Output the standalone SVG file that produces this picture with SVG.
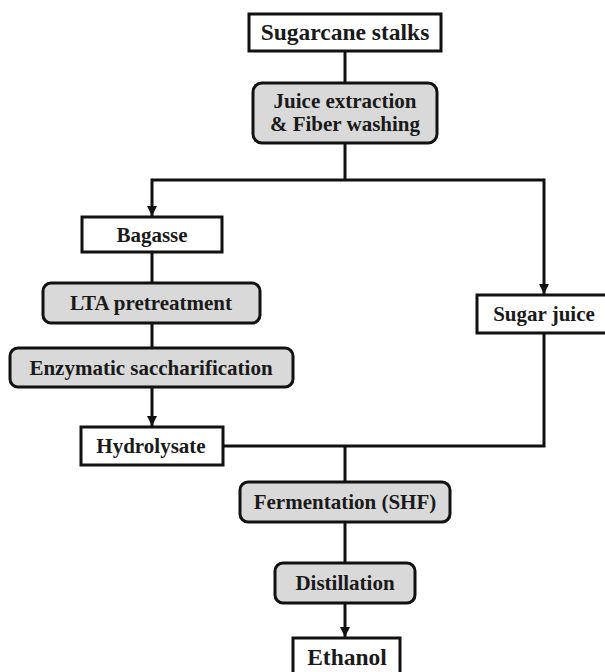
<svg xmlns="http://www.w3.org/2000/svg" width="605" height="672" viewBox="0 0 605 672">
<style>
.box{fill:#ffffff;stroke:#111111;stroke-width:3}
.proc{fill:#d9d9d9;stroke:#111111;stroke-width:3}
.t{font-family:"Liberation Serif","Times New Roman",serif;font-weight:bold;font-size:21px;fill:#1a1a1a;text-anchor:middle}
.big{font-size:23.5px}
.c{fill:none;stroke:#111111;stroke-width:3}
</style>
<defs>
<marker id="arr" viewBox="0 0 10 10" refX="10" refY="5" markerWidth="10" markerHeight="11" markerUnits="userSpaceOnUse" orient="auto">
<path d="M0,0 L10,5 L0,10 Z" fill="#111111"/>
</marker>
</defs>
<rect width="605" height="672" fill="#ffffff"/>
<g id="connectors">
<line class="c" x1="345" y1="51" x2="345" y2="83"/>
<line class="c" x1="345" y1="143" x2="345" y2="180"/>
<polyline class="c" points="345,180 152,180 152,216" marker-end="url(#arr)"/>
<polyline class="c" points="345,180 544,180 544,294" marker-end="url(#arr)"/>
<line class="c" x1="152" y1="252" x2="152" y2="283"/>
<line class="c" x1="152" y1="323" x2="152" y2="348"/>
<line class="c" x1="152" y1="387" x2="152" y2="426" marker-end="url(#arr)"/>
<polyline class="c" points="223,446 544,446 544,333"/>
<line class="c" x1="345" y1="446" x2="345" y2="482"/>
<line class="c" x1="345" y1="522" x2="345" y2="563"/>
<line class="c" x1="345" y1="603" x2="345" y2="637" marker-end="url(#arr)"/>
</g>
<g id="sugarcane">
<rect class="box" x="249" y="14" width="192" height="37"/>
<text class="t big" x="345" y="40">Sugarcane stalks</text>
</g>
<g id="juice-extraction">
<rect class="proc" x="253" y="83" width="184" height="60" rx="9"/>
<text class="t" x="345" y="108">Juice extraction</text>
<text class="t" x="345" y="131">&amp; Fiber washing</text>
</g>
<g id="bagasse">
<rect class="box" x="82" y="217" width="140" height="35"/>
<text class="t" x="152" y="242">Bagasse</text>
</g>
<g id="lta">
<rect class="proc" x="43" y="283" width="217" height="40" rx="8"/>
<text class="t" x="151" y="310">LTA pretreatment</text>
</g>
<g id="enzymatic">
<rect class="proc" x="10" y="348" width="283" height="39" rx="8"/>
<text class="t" x="151" y="375">Enzymatic saccharification</text>
</g>
<g id="hydrolysate">
<rect class="box" x="81" y="427" width="142" height="38"/>
<text class="t" x="151" y="453">Hydrolysate</text>
</g>
<g id="sugar-juice">
<rect class="box" x="477" y="295" width="130" height="38"/>
<text class="t" x="544" y="321">Sugar juice</text>
</g>
<g id="fermentation">
<rect class="proc" x="240" y="482" width="210" height="40" rx="8"/>
<text class="t" x="345" y="509">Fermentation (SHF)</text>
</g>
<g id="distillation">
<rect class="proc" x="275" y="563" width="140" height="40" rx="8"/>
<text class="t" x="345" y="590">Distillation</text>
</g>
<g id="ethanol">
<rect class="box" x="293" y="638" width="107" height="42"/>
<text class="t big" x="347" y="665">Ethanol</text>
</g>
</svg>
